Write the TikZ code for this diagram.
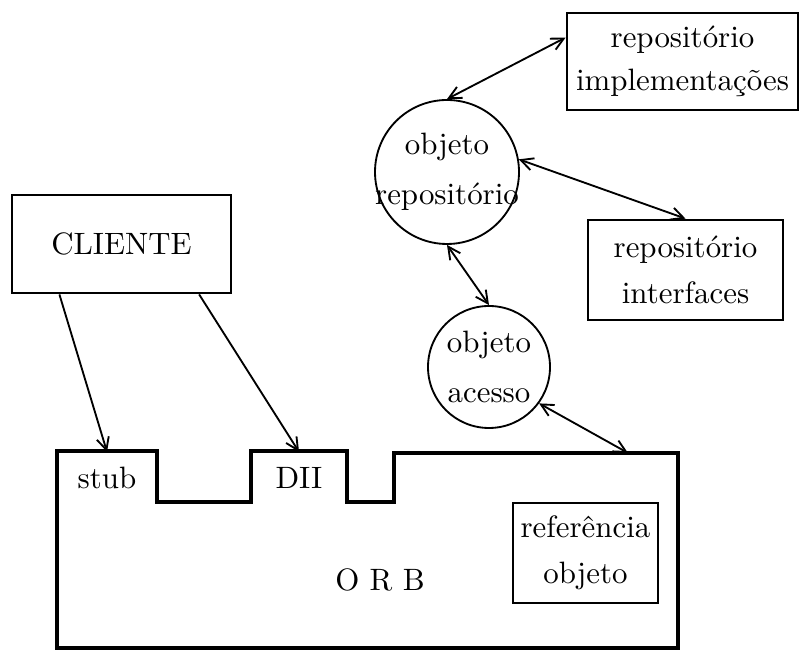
\documentclass[tikz,border=0pt]{standalone}
\usetikzlibrary{arrows.meta,calc}
\newcommand{\pxl}{0.3236pt}
\begin{document}
\begin{tikzpicture}[x=0.3236pt,y=-0.3236pt,
  thinline/.style={line width=0.6pt},
  box/.style={draw,line width=0.9pt,rectangle,inner sep=0pt,align=center},
  roundbox/.style={draw,line width=0.6pt,circle,inner sep=0pt},
  tab/.style={rectangle,inner sep=0pt},
  link/.style={thinline,-{Straight Barb[length=4pt,width=4pt]}},
  dlink/.style={thinline,{Straight Barb[length=4pt,width=4pt]}-{Straight Barb[length=4pt,width=4pt]}},
  orbline/.style={line width=1.4pt,line join=miter}]
\useasboundingbox (0,0) rectangle (802,652);

% ORB body with the stub and DII tabs on top
\draw[orbline] (57,451) -- (157,451) -- (157,502) -- (251,502) -- (251,451)
  -- (347,451) -- (347,502) -- (394,502) -- (394,453) -- (678,453)
  -- (678,648) -- (57,648) -- cycle;
\node[tab,minimum width=100*\pxl,minimum height=51*\pxl] (stub) at (107,478) {stub};
\node[tab,minimum width=96*\pxl,minimum height=51*\pxl] (dii) at (299,478) {DII};
\node (orb) at (380,580) {O R B};
\coordinate (orbtop) at (628,453);
\node[box,minimum width=145*\pxl,minimum height=100*\pxl] (ref) at (585.5,553) {refer\^encia\\[3pt]objeto};

% client
\node[box,minimum width=219*\pxl,minimum height=98*\pxl] (cli) at (121.5,244) {CLIENTE};

% repository objects: fixed-size circles, labels set on top
\node[roundbox,minimum size=144*\pxl] (rep) at (447,172) {};
\node[align=center,inner sep=0pt] (replabel) at (rep.center) {objeto\\[4pt]reposit\'orio};
\node[roundbox,minimum size=122*\pxl] (acc) at (489,367) {};
\node[align=center,inner sep=0pt] (acclabel) at (acc.center) {objeto\\[4pt]acesso};
\node[box,minimum width=231*\pxl,minimum height=97*\pxl] (impl) at (682.5,61.5) {reposit\'orio\\[2pt]implementa\c{c}\~oes};
\node[box,minimum width=195*\pxl,minimum height=100*\pxl] (intf) at (685.5,270) {reposit\'orio\\[3pt]interfaces};

% connectors
\draw[link] ($(cli.south west)!0.22!(cli.south east)$) -- (stub.north);
\draw[link] ($(cli.south west)!0.85!(cli.south east)$) -- (dii.north);
\draw[dlink] (rep.north) -- ($(impl.north west)!0.26!(impl.south west)$);
\draw[dlink] (rep.10) -- (intf.north);
\draw[dlink] (rep.south) -- (acc.north);
\draw[dlink] (acc.-36) -- (orbtop);
\end{tikzpicture}
\end{document}
